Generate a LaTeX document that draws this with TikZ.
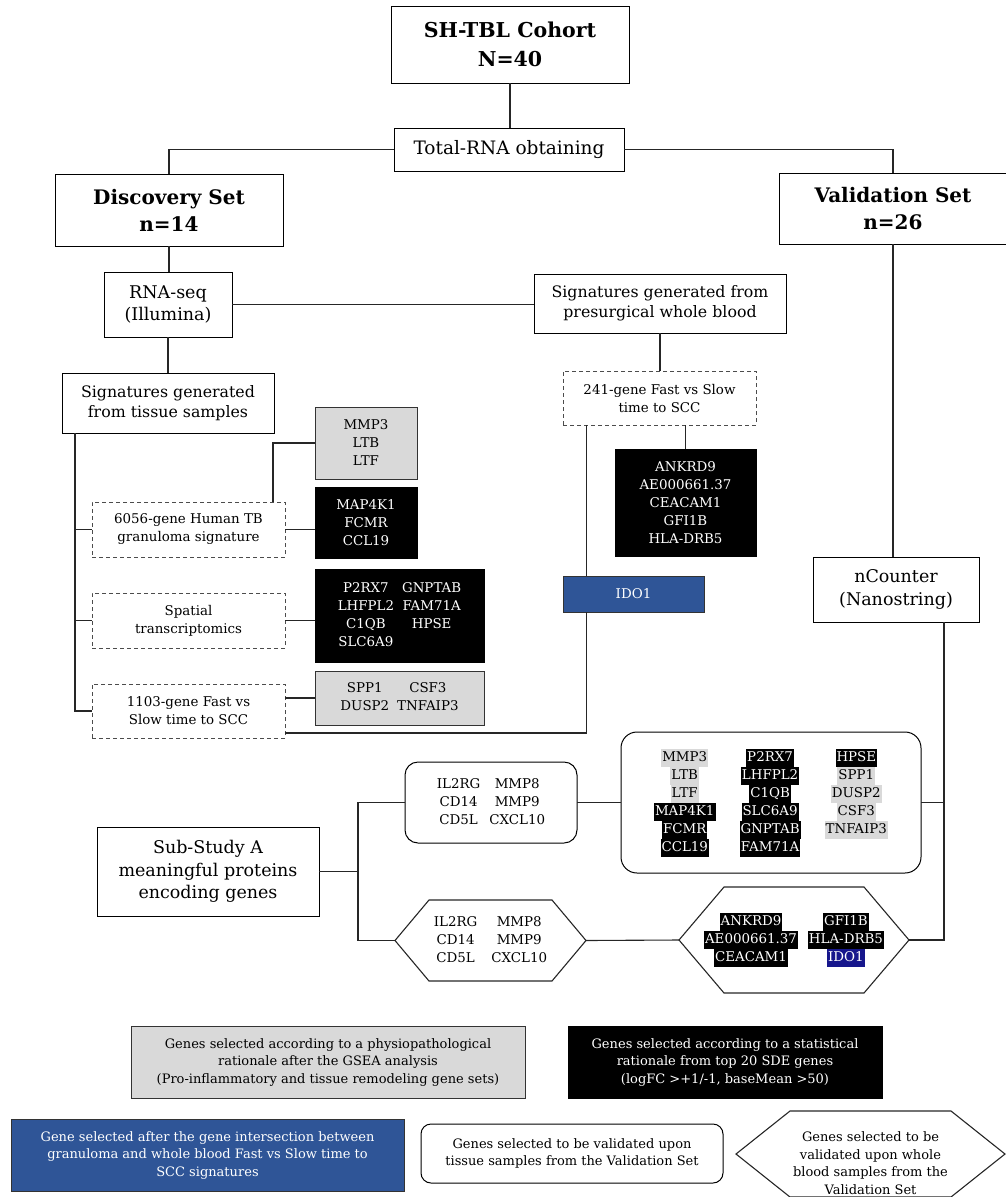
\documentclass[tikz,border=0pt]{standalone}
\usepackage{fontspec}
\setmainfont{DejaVu Serif}
\usepackage{xcolor}
\definecolor{gsea}{RGB}{217,217,217}
\definecolor{idoblue}{RGB}{47,85,151}
\definecolor{idonavy}{RGB}{22,22,140}
\newcommand{\hlg}[1]{{\setlength{\fboxsep}{0pt}\colorbox{gsea}{\kern1pt\strut#1\kern1pt}}}
\newcommand{\hlk}[1]{{\setlength{\fboxsep}{0pt}\colorbox{black}{\kern1pt\strut\textcolor{white}{#1}\kern1pt}}}
\newcommand{\hln}[1]{{\setlength{\fboxsep}{0pt}\colorbox{idonavy}{\kern1pt\strut\textcolor{white}{#1}\kern1pt}}}
\tikzset{
	box/.style={draw, line width=1pt, inner sep=0pt, outer sep=0pt, align=center},
	dbox/.style={box, draw=black!70, dash pattern=on 4pt off 3pt},
	gbox/.style={box, fill=gsea, draw=black!80},
	kbox/.style={box, fill=black, text=white},
	bbox/.style={box, fill=idoblue, text=white, draw=black!80},
	rbox/.style={box, rounded corners=13pt},
	plain/.style={inner sep=0pt, outer sep=0pt, align=center},
	link/.style={line width=1.1pt, draw=black!85},
	ftitle/.style={font=\fontsize{20}{27}\selectfont\bfseries},
	fmid/.style={font=\fontsize{17.5}{22.5}\selectfont},
	fsig/.style={font=\fontsize{15.8}{20}\selectfont},
	fsmall/.style={font=\fontsize{13.4}{18}\selectfont},
	fgene/.style={font=\fontsize{13.4}{18}\selectfont},
	flegend/.style={font=\fontsize{13}{17.5}\selectfont},
}

\begin{document}
\begin{tikzpicture}[x=1pt,y=-1pt]
	\useasboundingbox (0,0) rectangle (1006,1197);
	
	\node[box, font=\fontsize{20.5}{29}\selectfont\bfseries, minimum width=238, minimum height=77] (cohort) at (510,44.5) {SH-TBL Cohort\\N=40};
	\node[box, font=\fontsize{18.5}{22.5}\selectfont, minimum width=230, minimum height=43] (total) at (509,149.5) {Total-RNA obtaining};
	\node[box, ftitle, minimum width=228, minimum height=72] (disc) at (169,210) {Discovery Set\\n=14};
	\node[box, ftitle, minimum width=228, minimum height=71] (valid) at (893,208.5) {Validation Set\\n=26};
	
	\node[box, fmid, minimum width=128, minimum height=65] (rnaseq) at (168,304.5) {RNA-seq\\(Illumina)};
	\node[box, fsig, minimum width=252, minimum height=59] (blood) at (660,303.5) {Signatures generated from\\presurgical whole blood};
	\node[box, fsig, minimum width=212, minimum height=60] (tissue) at (168,403) {Signatures generated\\from tissue samples};
	
	\node[dbox, fsmall, minimum width=193, minimum height=54] (fs241) at (659.5,398) {241-gene Fast vs Slow\\time to SCC};
	\node[kbox, fgene, minimum width=141, minimum height=107] (kblood) at (685.5,502.5) {ANKRD9\\AE000661.37\\CEACAM1\\GFI1B\\HLA-DRB5};
	\node[bbox, fgene, minimum width=141, minimum height=36] (ido) at (633.5,594) {IDO1};
	\node[box, fmid, minimum width=166, minimum height=65] (ncounter) at (896,589.5) {nCounter\\(Nanostring)};
	
	\node[dbox, fsmall, minimum width=193, minimum height=55] (granu) at (188.5,529.5) {6056-gene Human TB\\granuloma signature};
	\node[gbox, fgene, minimum width=102, minimum height=72] (ggranu) at (366,443) {MMP3\\LTB\\LTF};
	\node[kbox, fgene, minimum width=102, minimum height=71] (kgranu) at (366,522.5) {MAP4K1\\FCMR\\CCL19};
	\node[dbox, fsmall, minimum width=193, minimum height=55] (spatial) at (188.5,620.5) {Spatial\\transcriptomics};
	\node[kbox, fgene, minimum width=169, minimum height=93] (kspatial) at (399.5,615.5) {\begin{tabular}{@{}c@{\hspace{8pt}}c@{}}P2RX7 & GNPTAB\\LHFPL2 & FAM71A\\C1QB & HPSE\\SLC6A9 & \end{tabular}};
	\node[dbox, fsmall, minimum width=193, minimum height=54] (fs1103) at (188.5,711) {1103-gene Fast vs\\Slow time to SCC};
	\node[gbox, fgene, minimum width=169, minimum height=54] (gfs) at (399.5,698) {\begin{tabular}{@{}c@{\hspace{8pt}}c@{}}SPP1 & CSF3\\DUSP2 & TNFAIP3\end{tabular}};
	
	\node[box, fmid, minimum width=222, minimum height=89] (sub) at (208,871.5) {Sub-Study A\\meaningful proteins\\encoding genes};
	\node[rbox, fgene, minimum width=172, minimum height=81] (tsel) at (491,802.5) {\begin{tabular}{@{}c@{\hspace{9pt}}c@{}}IL2RG & MMP8\\CD14 & MMP9\\CD5L & CXCL10\end{tabular}};
	\node[rbox, fgene, rounded corners=16pt, minimum width=300, minimum height=141] (tgenes) at (771,802.5) {\begin{tabular}{@{}c@{\hspace{24pt}}c@{\hspace{24pt}}c@{}}\hlg{MMP3} & \hlk{P2RX7} & \hlk{HPSE}\\\hlg{LTB} & \hlk{LHFPL2} & \hlg{SPP1}\\\hlg{LTF} & \hlk{C1QB} & \hlg{DUSP2}\\\hlk{MAP4K1} & \hlk{SLC6A9} & \hlg{CSF3}\\\hlk{FCMR} & \hlk{GNPTAB} & \hlg{TNFAIP3}\\\hlk{CCL19} & \hlk{FAM71A} & \end{tabular}};
	\node[plain, fgene, minimum width=191, minimum height=81] (bsel) at (490.5,940.5) {\begin{tabular}{@{}c@{\hspace{14pt}}c@{}}IL2RG & MMP8\\CD14 & MMP9\\CD5L & CXCL10\end{tabular}};
	\node[plain, fgene, minimum width=230, minimum height=106] (bgenes) at (794,940) {\begin{tabular}{@{}c@{\hspace{10pt}}c@{}}\hlk{ANKRD9} & \hlk{GFI1B}\\\hlk{AE000661.37} & \hlk{HLA-DRB5}\\\hlk{CEACAM1} & \hln{IDO1}\end{tabular}};
	\draw[link] (bsel.west) -- ([xshift=34pt]bsel.north west) -- ([xshift=-34pt]bsel.north east) -- (bsel.east) -- ([xshift=-34pt]bsel.south east) -- ([xshift=34pt]bsel.south west) -- cycle;
	\draw[link] (bgenes.west) -- ([xshift=45pt]bgenes.north west) -- ([xshift=-45pt]bgenes.north east) -- (bgenes.east) -- ([xshift=-45pt]bgenes.south east) -- ([xshift=45pt]bgenes.south west) -- cycle;
	
	\draw[link] (cohort.south) -- (cohort.south |- total.north);
	\draw[link] (total.west) -| (disc.north);
	\draw[link] (total.east) -| (valid.north);
	\draw[link] (disc.south) -- (disc.south |- rnaseq.north);
	\draw[link] (rnaseq.east) -- (rnaseq.east -| blood.west);
	\draw[link] (rnaseq.south) -- (tissue.north);
	\draw[link] (blood.south) -- (blood.south |- fs241.north);
	\draw[link] (kblood.north) -- (kblood.north |- fs241.south);
	\coordinate (idoin) at ([xshift=-47pt]ido.north);
	\coordinate (idoout) at ([xshift=-47pt]ido.south);
	\draw[link] (idoin) -- (idoin |- fs241.south);
	\draw[link] (idoout) |- ([yshift=5pt]fs1103.south east);
	
	\coordinate (trunk) at ([xshift=13pt]tissue.south west);
	\draw[link] (trunk) |- (fs1103.west);
	\draw[link] (granu.west) -| (trunk);
	\draw[link] (spatial.west) -| (trunk);
	\draw[link] (granu.east) -- (granu.east -| kgranu.west);
	\coordinate (granutop) at ([xshift=-12pt]granu.north east);
	\draw[link] (granutop) |- (ggranu.west);
	\draw[link] (spatial.east) -- (spatial.east -| kspatial.west);
	\draw[link] (gfs.west) -- (gfs.west -| fs1103.east);
	
	\draw[link] (valid.south) -- (valid.south |- ncounter.north);
	\coordinate (ncdown) at ([xshift=48pt]ncounter.south);
	\draw[link] (ncdown) |- (bgenes.east);
	\draw[link] (tgenes.east) -| (ncdown);
	\draw[link] (tsel.east) -- (tgenes.west);
	\coordinate (subfork) at ([xshift=39pt]sub.east);
	\draw[link] (sub.east) -- (subfork);
	\draw[link] (tsel.west) -| (subfork) |- (bsel.west);
	\draw[link] (bsel.east) -- (bgenes.west);
	
	% legend
	\node[gbox, flegend, minimum width=394, minimum height=72] (leggsea) at (328,1062) {Genes selected according to a physiopathological\\rationale after the GSEA analysis\\(Pro-inflammatory and tissue remodeling gene sets)};
	\node[kbox, flegend, minimum width=314, minimum height=72] (legsde) at (725,1062) {Genes selected according to a statistical\\rationale from top 20 SDE genes\\(logFC >+1/-1, baseMean >50)};
	\node[bbox, flegend, minimum width=393, minimum height=72] (legido) at (207.5,1155) {Gene selected after the gene intersection between\\granuloma and whole blood Fast vs Slow time to\\SCC signatures};
	\node[rbox, flegend, rounded corners=10pt, minimum width=302, minimum height=59] (legtissue) at (572,1153.5) {Genes selected to be validated upon\\tissue samples from the Validation Set};
	\node[plain, minimum width=269, minimum height=86] (legblood) at (870.5,1154) {};
	\draw[link] (legblood.west) -- ([xshift=54pt]legblood.north west) -- ([xshift=-54pt]legblood.north east) -- (legblood.east) -- ([xshift=-54pt]legblood.south east) -- ([xshift=54pt]legblood.south west) -- cycle;
	\node[plain, flegend] (legbloodtxt) at (870.5,1163) {Genes selected to be\\validated upon whole\\blood samples from the\\Validation Set};
	
\end{tikzpicture}
\end{document}
